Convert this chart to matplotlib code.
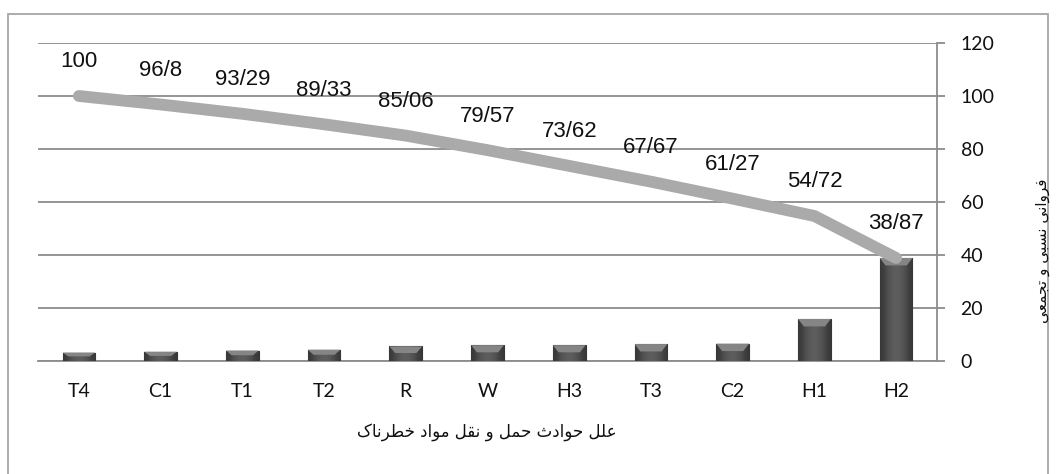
################################################ Import modules ########################################################

import matplotlib
matplotlib.use('Agg')
import matplotlib.pyplot as plt
import numpy as np
from matplotlib.patches import Rectangle, Polygon

##################################################### Data #############################################################

causes = ['T4', 'C1', 'T1', 'T2', 'R', 'W', 'H3', 'T3', 'C2', 'H1', 'H2']
relative_freq = [3.2, 3.51, 3.96, 4.27, 5.49, 5.95, 5.95, 6.4, 6.55, 15.85, 38.87]
cumulative_freq = [100, 96.8, 93.29, 89.33, 85.06, 79.57, 73.62, 67.67, 61.27, 54.72, 38.87]
y_ticks = [0, 20, 40, 60, 80, 100, 120]

x_title = 'علل حوادث حمل و نقل مواد خطرناک'
y_title = 'فروانی نسبی و تجمعی'

############################################## Arabic shaping (by hand) ################################################
# matplotlib has no complex text layout, so join letters with presentation forms and flip to visual order.

forms = {
    'ا': ('\uFE8D', '\uFE8E', None, None),
    'ب': ('\uFE8F', '\uFE90', '\uFE91', '\uFE92'),
    'ت': ('\uFE95', '\uFE96', '\uFE97', '\uFE98'),
    'ث': ('\uFE99', '\uFE9A', '\uFE9B', '\uFE9C'),
    'ج': ('\uFE9D', '\uFE9E', '\uFE9F', '\uFEA0'),
    'ح': ('\uFEA1', '\uFEA2', '\uFEA3', '\uFEA4'),
    'خ': ('\uFEA5', '\uFEA6', '\uFEA7', '\uFEA8'),
    'د': ('\uFEA9', '\uFEAA', None, None),
    'ر': ('\uFEAD', '\uFEAE', None, None),
    'س': ('\uFEB1', '\uFEB2', '\uFEB3', '\uFEB4'),
    'ط': ('\uFEC1', '\uFEC2', '\uFEC3', '\uFEC4'),
    'ع': ('\uFEC9', '\uFECA', '\uFECB', '\uFECC'),
    'ف': ('\uFED1', '\uFED2', '\uFED3', '\uFED4'),
    'ق': ('\uFED5', '\uFED6', '\uFED7', '\uFED8'),
    'ل': ('\uFEDD', '\uFEDE', '\uFEDF', '\uFEE0'),
    'م': ('\uFEE1', '\uFEE2', '\uFEE3', '\uFEE4'),
    'ن': ('\uFEE5', '\uFEE6', '\uFEE7', '\uFEE8'),
    'و': ('\uFEED', '\uFEEE', None, None),
    'ک': ('\uFB8E', '\uFB8F', '\uFB90', '\uFB91'),
    'ی': ('\uFBFC', '\uFBFD', '\uFBFE', '\uFBFF'),
}


def shape(text):
    out = []
    for i, ch in enumerate(text):
        if ch not in forms:
            out.append(ch)
            continue
        prev_ch = text[i - 1] if i > 0 else ''
        next_ch = text[i + 1] if i + 1 < len(text) else ''
        join_prev = prev_ch in forms and forms[prev_ch][2] is not None
        join_next = next_ch in forms and forms[ch][2] is not None
        iso, fin, ini, med = forms[ch]
        if join_prev and join_next:
            out.append(med)
        elif join_prev:
            out.append(fin)
        elif join_next:
            out.append(ini)
        else:
            out.append(iso)
    return ''.join(out)[::-1]

###################################################### Figure ##########################################################

W, H = 1057, 474
fig = plt.figure(figsize=(W / 100, H / 100), dpi=100)
fig.patch.set_facecolor('white')

# outer chart frame
fig.patches.append(Rectangle((8 / W, -0.02), (1048 - 8) / W, 1.02 - 14 / H, transform=fig.transFigure,
                             fill=False, edgecolor='#a6a6a6', linewidth=1.3))

ax = fig.add_axes([38 / W, 1 - 361 / H, (937 - 38) / W, (361 - 43) / H])
x = np.arange(len(causes))

############################################### Bars with a little bevel ###############################################

bars = ax.bar(x, relative_freq, width=0.4, color='#4f4f4f', edgecolor='#353535', linewidth=0.8, zorder=3)

grad = np.array([[0.22, 0.30, 0.35, 0.37, 0.35, 0.30, 0.22]])
for b in bars:
    bx, by, bw, bh = b.get_x(), b.get_y(), b.get_width(), b.get_height()
    im = ax.imshow(grad, cmap='gray', vmin=0, vmax=1, aspect='auto',
                   extent=(bx, bx + bw, by, by + bh), zorder=3.5, interpolation='bicubic')
    im.set_clip_path(b)
    bev = min(2.8, bh * 0.45)
    ax.add_patch(Polygon([(bx, by + bh), (bx + bw, by + bh), (bx + bw - 0.07, by + bh - bev),
                          (bx + 0.07, by + bh - bev)], closed=True, facecolor='#858585',
                         edgecolor='none', zorder=4))

ax.set_xlim(-0.5, len(causes) - 0.5)

#################################################### Cumulative line ###################################################

ax.plot(x, cumulative_freq, color='#aaaaaa', linewidth=8.5, solid_capstyle='round',
        solid_joinstyle='miter', zorder=5)

for xi, v in zip(x, cumulative_freq):
    ax.annotate(f'{v:g}'.replace('.', '/'), (xi, v), xytext=(0, 24.5), textcoords='offset points',
                ha='center', va='center', fontsize=16, family='Liberation Sans', color='#111111', zorder=6)

###################################################### Axes styling ####################################################

ax.set_ylim(0, 120)
ax.set_yticks(y_ticks)
ax.yaxis.tick_right()
ax.yaxis.set_label_position('right')
ax.grid(axis='y', color='#8c8c8c', linewidth=1.3, zorder=0)
ax.set_axisbelow(True)

for side in ['left', 'top']:
    ax.spines[side].set_visible(False)
for side in ['right', 'bottom']:
    ax.spines[side].set_color('#8c8c8c')
    ax.spines[side].set_linewidth(1.3)

ax.tick_params(axis='y', length=6, width=1.3, color='#8c8c8c', pad=11, labelsize=14, labelcolor='#111111')
ax.tick_params(axis='x', length=0, pad=16, labelsize=14, labelcolor='#111111')
ax.set_xticks(x)
ax.set_xticklabels(causes)
for lab in ax.get_xticklabels() + ax.get_yticklabels():
    lab.set_family('Lato')

fig.text(487 / W, 1 - 432 / H, shape(x_title), ha='center', va='center', fontsize=12,
         family='DejaVu Sans', color='#111111')
fig.text(1043 / W, 1 - 251 / H, shape(y_title), ha='center', va='center', rotation=90, fontsize=11,
         family='DejaVu Sans', color='#111111')

fig.savefig('out.png', dpi=100, facecolor='white')
print('Saved out.png')
